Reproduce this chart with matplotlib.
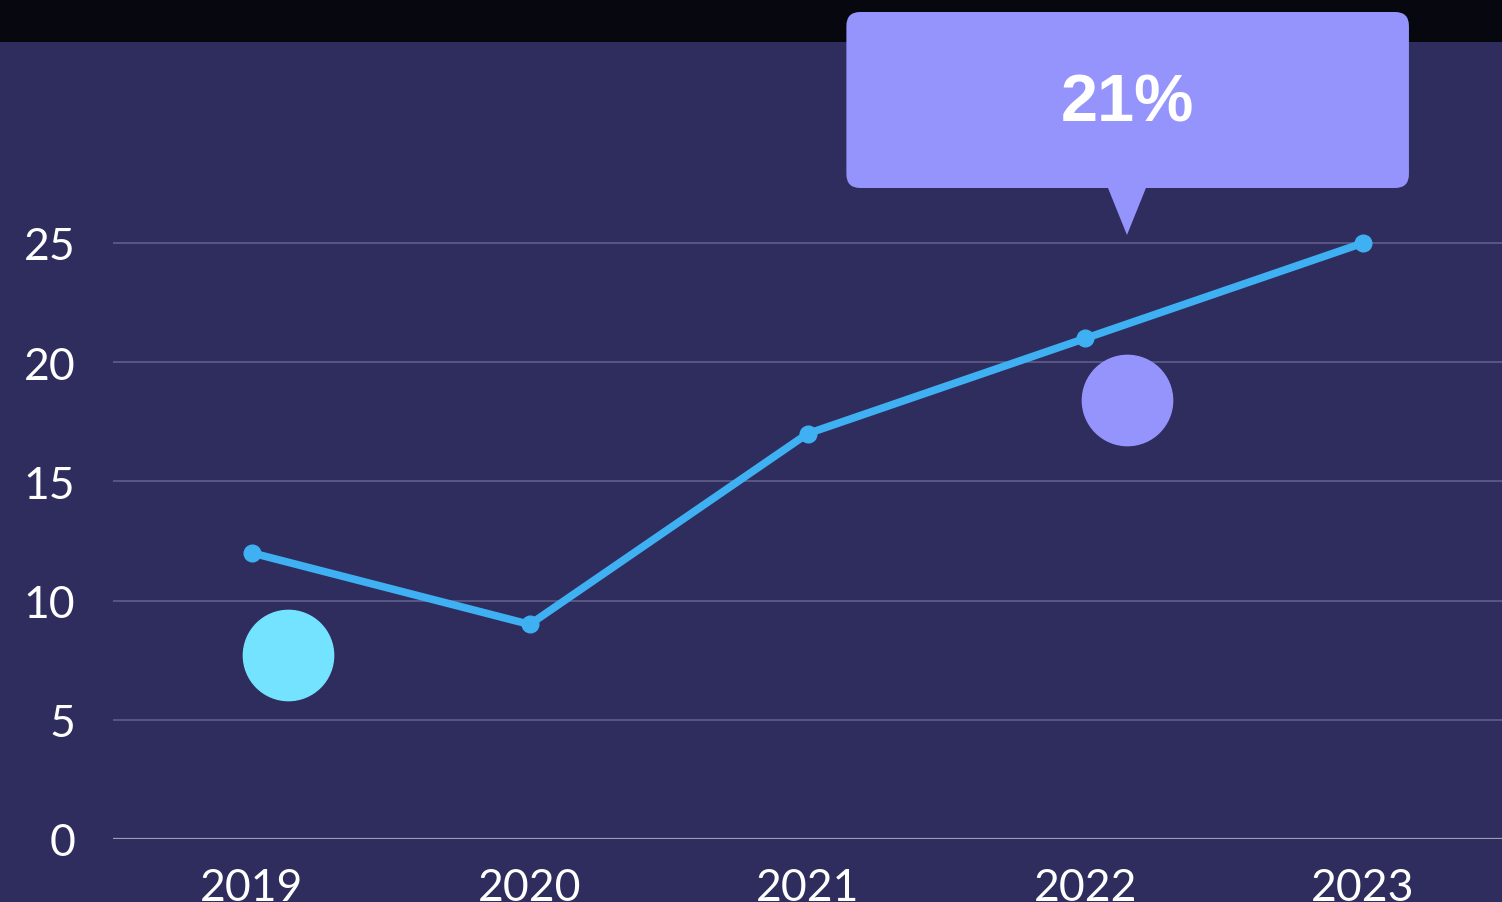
import matplotlib
matplotlib.use("Agg")
import matplotlib.pyplot as plt
from matplotlib.patches import FancyBboxPatch, Polygon, Rectangle

# Data
years = ["2019", "2020", "2021", "2022", "2023"]
values = [12, 9, 17, 21, 25]
y_ticks = [0, 5, 10, 15, 20, 25]
highlight_label = "21%"
highlight_index = 3

# Decorative bubbles (data coords)
bubble_cyan = (0.13, 7.7)
bubble_purple = (3.15, 18.4)

BG = "#2e2d5e"
TOP = "#07070f"
LINE = "#3fb0f2"
CYAN = "#74e3ff"
PURPLE = "#9594fd"
GRID = "#5c5b88"
ZERO = "#9d9cba"

W, H = 1502, 903
fig = plt.figure(figsize=(W / 100, H / 100), dpi=100, facecolor=BG)
fig.patches.append(Rectangle((0, 1 - 43 / H), 1, 43 / H, transform=fig.transFigure,
                             facecolor=TOP, edgecolor="none", zorder=0))

ax_left = 113 / W
ax_bottom = (H - 840) / H
ax_top = (H - 43) / H
ax = fig.add_axes([ax_left, ax_bottom, 1 - ax_left, ax_top - ax_bottom])
ax.set_facecolor("none")
ax.set_zorder(2)

px_per_unit = (840 - 244) / 25
ax.set_xlim(-0.5, 4.5)
ax.set_ylim(0, (840 - 43) / px_per_unit)

for t in y_ticks:
    ax.axhline(t, color=ZERO if t == 0 else GRID, lw=1.6 if t == 0 else 1.3, zorder=1)

x = list(range(len(years)))
ax.plot(x, values, color=LINE, lw=5.5, marker="o", markersize=12, zorder=3,
        solid_capstyle="round")

ax.plot([bubble_cyan[0]], [bubble_cyan[1]], "o", color=CYAN, markersize=65, zorder=2)
ax.plot([bubble_purple[0]], [bubble_purple[1]], "o", color=PURPLE, markersize=65, zorder=2)

# Tooltip
tx = bubble_purple[0]
box_x0, box_x1 = 2.14, 4.165
box_y0 = (840 - 189) / px_per_unit
box_y1 = (840 - 13) / px_per_unit
tip_y = (840 - 236) / px_per_unit
bb = FancyBboxPatch((box_x0, box_y0), box_x1 - box_x0, box_y1 - box_y0,
                    boxstyle="round,pad=0,rounding_size=0.05", mutation_aspect=11.6,
                    facecolor=PURPLE, edgecolor="none", clip_on=False, zorder=5)
ax.add_patch(bb)
ax.add_patch(Polygon([(tx - 0.07, box_y0 + 0.05), (tx + 0.07, box_y0 + 0.05), (tx, tip_y)],
                     closed=True, facecolor=PURPLE, edgecolor="none", clip_on=False, zorder=5))
ax.text(tx, (840 - 97) / px_per_unit, highlight_label, ha="center", va="center_baseline",
        color="white", fontsize=48, fontweight="bold", family="Liberation Sans",
        zorder=6, clip_on=False)

ax.set_xticks(x)
ax.set_xticklabels(years)
ax.set_yticks(y_ticks)
ax.set_yticklabels([str(t) for t in y_ticks])
for lab in ax.get_xticklabels() + ax.get_yticklabels():
    lab.set_family("Lato")
    lab.set_fontweight("normal")
    lab.set_fontsize(32)
    lab.set_color("white")
ax.tick_params(axis="both", length=0)
ax.tick_params(axis="y", pad=27)
ax.tick_params(axis="x", pad=20)
for s in ax.spines.values():
    s.set_visible(False)
ax.grid(False)

fig.savefig("out.png", dpi=100, facecolor=BG)
